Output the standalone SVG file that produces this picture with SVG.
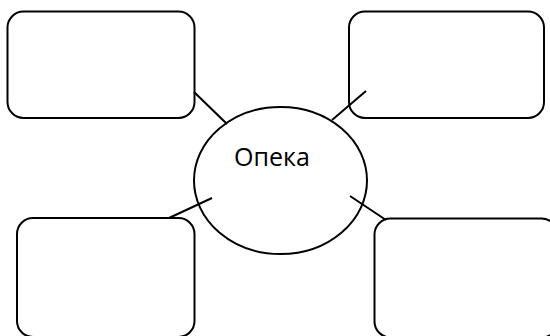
<svg xmlns="http://www.w3.org/2000/svg" width="550" height="336" viewBox="0 0 550 336">
<style>
.box{fill:#fff;stroke:#000;stroke-width:2}
.conn line{stroke:#000;stroke-width:2}
.lbl{font-family:"Open Sans","Noto Sans","Liberation Sans",sans-serif;font-size:25px;fill:#000}
</style>
<rect width="550" height="336" fill="#fff"/>
<g id="center">
<ellipse cx="280.5" cy="180.5" rx="86.5" ry="73.5" fill="none" stroke="#000" stroke-width="2"/>
<text class="lbl" x="272" y="166" text-anchor="middle">Опека</text>
</g>
<g id="box-top-left"><rect class="box" x="7.5" y="11.5" width="187" height="106.5" rx="16"/></g>
<g id="box-top-right"><rect class="box" x="349" y="11.5" width="195" height="106.5" rx="16"/></g>
<g id="box-bottom-left"><rect class="box" x="17" y="218" width="177.5" height="119" rx="16"/></g>
<g id="box-bottom-right"><rect class="box" x="374.5" y="218.5" width="183" height="119" rx="16"/></g>
<g id="connectors" class="conn">
<line x1="194" y1="92" x2="227" y2="124"/>
<line x1="332" y1="120" x2="366" y2="91"/>
<line x1="169" y1="218" x2="212" y2="198"/>
<line x1="350" y1="196" x2="386" y2="220"/>
</g>
</svg>
